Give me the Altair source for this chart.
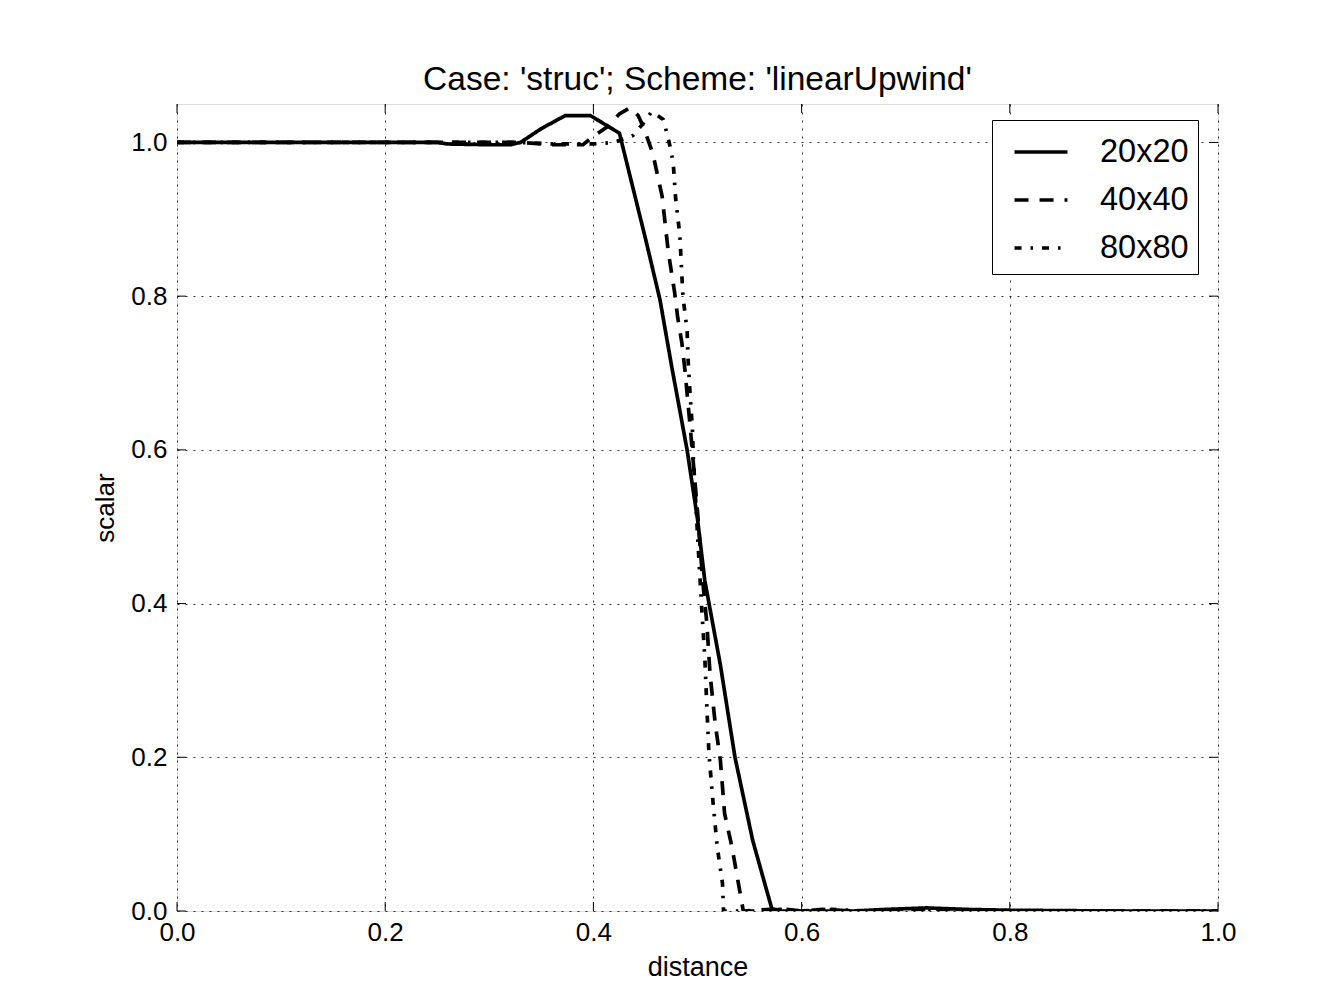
import altair as alt
import pandas as pd

# ---- data ----
series_names = ["20x20", "40x40", "80x80"]

x20 = [0.0, 0.05, 0.1, 0.15, 0.2, 0.25, 0.26, 0.3, 0.32, 0.33, 0.35, 0.373, 0.397,
       0.425, 0.45, 0.464, 0.475, 0.49, 0.5, 0.507, 0.522, 0.536, 0.553, 0.572,
       0.6, 0.65, 0.68, 0.72, 0.76, 0.8, 0.9, 1.0]
y20 = [1.0, 1.0, 1.0, 1.0, 1.0, 1.0, 0.998, 0.997, 0.997, 1.0, 1.018, 1.035, 1.035,
       1.012, 0.875, 0.795, 0.71, 0.6, 0.51, 0.43, 0.32, 0.2, 0.092, 0.0,
       0.0, 0.0, 0.002, 0.004, 0.002, 0.001, 0.0, 0.0]

x40 = [0.0, 0.1, 0.2, 0.3, 0.33, 0.36, 0.39, 0.40, 0.413, 0.425, 0.435, 0.443, 0.448,
       0.457, 0.466, 0.472, 0.478, 0.481, 0.485, 0.488, 0.493, 0.5, 0.505, 0.509,
       0.512, 0.517, 0.522, 0.526, 0.533, 0.541, 0.544, 0.58, 0.6, 0.62, 0.65,
       0.7, 0.8, 0.9, 1.0]
y40 = [1.0, 1.0, 1.0, 1.0, 1.0, 0.997, 0.997, 1.008, 1.02, 1.037, 1.045, 1.035, 1.02,
       0.986, 0.93, 0.857, 0.805, 0.772, 0.739, 0.703, 0.63, 0.52, 0.43, 0.374,
       0.309, 0.244, 0.196, 0.127, 0.084, 0.023, 0.0, 0.003, 0.0, 0.002, 0.0,
       0.0, 0.0, 0.0, 0.0]

x80 = [0.0, 0.1, 0.2, 0.3, 0.33, 0.36, 0.4, 0.42, 0.438, 0.448, 0.456, 0.467, 0.471,
       0.475, 0.477, 0.479, 0.483, 0.486, 0.49, 0.491, 0.493, 0.495, 0.496, 0.5,
       0.504, 0.507, 0.509, 0.511, 0.515, 0.519, 0.524, 0.525, 0.56, 0.58, 0.6,
       0.63, 0.66, 0.7, 0.8, 0.9, 1.0]
y80 = [1.0, 1.0, 1.0, 1.0, 1.0, 0.998, 0.998, 1.0, 1.009, 1.025, 1.04, 1.03, 1.01,
       0.987, 0.967, 0.927, 0.88, 0.8, 0.755, 0.716, 0.67, 0.63, 0.59, 0.49,
       0.395, 0.33, 0.265, 0.205, 0.14, 0.083, 0.036, 0.0, 0.0, 0.002, 0.0,
       0.002, 0.0, 0.0, 0.0, 0.0, 0.0]

tick_values = [0.0, 0.2, 0.4, 0.6, 0.8, 1.0]

title_text = "Case: 'struc'; Scheme: 'linearUpwind'"
x_title = "distance"
y_title = "scalar"

# ---- build tables ----
rows = []
for name, xs, ys in zip(series_names, [x20, x40, x80], [y20, y40, y80]):
    for i, (a, b) in enumerate(zip(xs, ys)):
        rows.append({"series": name, "distance": a, "scalar": b, "order": i})
df = pd.DataFrame(rows)
ticks_df = pd.DataFrame({"t": tick_values})

W, H = 1041, 807
FONT = "Liberation Sans"
TL = 9  # tick length
LW = 3.7

xscale = alt.Scale(domain=[0, 1], nice=False, zero=False)
yscale = alt.Scale(domain=[0, 1.05], nice=False, zero=False)

lines = alt.Chart(df).mark_line(color="black", strokeWidth=LW, clip=True).encode(
    x=alt.X("distance:Q", scale=xscale,
            axis=alt.Axis(values=tick_values, format=".1f", title=x_title,
                          ticks=False, domain=False, grid=True,
                          gridColor="black", gridDash=[2, 6], gridWidth=1,
                          gridOpacity=0.8,
                          labelFontSize=26, labelPadding=8, labelFont=FONT,
                          labelColor="black", titleFont=FONT, titleFontSize=27,
                          titleFontWeight="normal", titleColor="black",
                          titlePadding=9, labelFlush=False)),
    y=alt.Y("scalar:Q", scale=yscale,
            axis=alt.Axis(values=tick_values, format=".1f", title=y_title,
                          ticks=False, domain=False, grid=True,
                          gridColor="black", gridDash=[2, 6], gridWidth=1,
                          gridOpacity=0.8,
                          labelFontSize=26, labelPadding=10, labelFont=FONT,
                          labelColor="black", titleFont=FONT, titleFontSize=26,
                          titleFontWeight="normal", titleColor="black",
                          titlePadding=12, labelFlush=False)),
    strokeDash=alt.StrokeDash(
        "series:N",
        scale=alt.Scale(domain=series_names,
                        range=[[1, 0], [14, 11], [7, 9, 2.5, 9]]),
        legend=alt.Legend(
            title=None, orient="none", legendX=815, legendY=16,
            fillColor="white", strokeColor="black", padding=9,
            symbolType="M-1.26,0L1.26,0", symbolSize=1764,
            symbolStrokeWidth=LW, symbolStrokeColor="black",
            symbolFillColor="transparent", symbolOffset=17,
            labelFontSize=32.5, labelFont=FONT, labelColor="black",
            labelOffset=36, rowPadding=8)),
    order="order:Q",
)

tick_x = alt.Chart(ticks_df)
bottom_ticks = tick_x.mark_rule(color="black", strokeWidth=1).encode(
    x=alt.X("t:Q", scale=xscale), y=alt.value(H), y2=alt.value(H - TL))
top_ticks = tick_x.mark_rule(color="black", strokeWidth=1).encode(
    x=alt.X("t:Q", scale=xscale), y=alt.value(0), y2=alt.value(TL))
left_ticks = tick_x.mark_rule(color="black", strokeWidth=1).encode(
    y=alt.Y("t:Q", scale=yscale), x=alt.value(0), x2=alt.value(TL))
right_ticks = tick_x.mark_rule(color="black", strokeWidth=1).encode(
    y=alt.Y("t:Q", scale=yscale), x=alt.value(W), x2=alt.value(W - TL))

chart = alt.layer(lines, bottom_ticks, top_ticks, left_ticks, right_ticks).properties(
    width=W, height=H,
    title=alt.TitleParams(title_text, fontSize=33.5, font=FONT, fontWeight="normal",
                          color="black", anchor="middle", offset=11, dy=31,
                          baseline="alphabetic"),
    autosize=alt.AutoSizeParams(type="none"),
    padding={"left": 169, "top": 96, "right": 113, "bottom": 89},
).configure_view(stroke="black", strokeWidth=1.7).configure(background="white")

chart.save("out.html", embed_options={"renderer": "svg", "actions": False})
